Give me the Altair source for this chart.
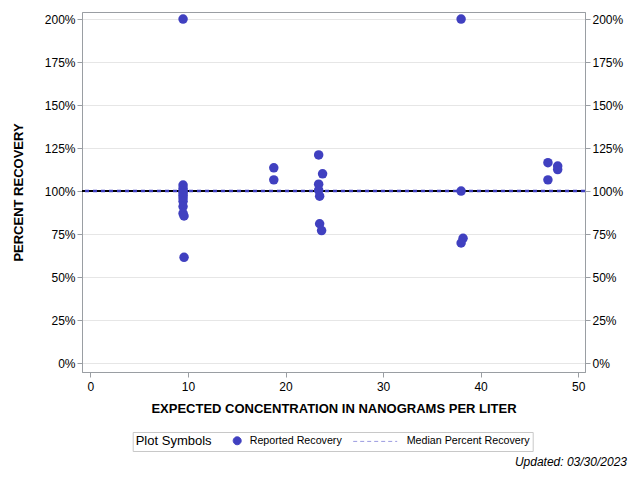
import altair as alt
import pandas as pd

conc = [9.5, 9.5, 9.5, 9.5, 9.5, 9.5, 9.5, 9.5, 9.5, 9.5, 9.6, 9.6,
        18.8, 18.8,
        23.4, 23.8, 23.4, 23.4, 23.5, 23.5, 23.7,
        38.0, 38.0, 38.2, 38.0,
        46.9, 47.9, 47.9, 46.9]
recovery = [200, 103.5, 101.5, 100, 99, 97.5, 96, 94, 91, 87, 85.5, 61.5,
            113.5, 106.5,
            121, 110, 104, 100.5, 97, 81, 77,
            200, 100, 72.5, 69.8,
            116.5, 114.5, 112.5, 106.5]
median_value = [100]
reference_value = [100]
y_ticks = [0, 25, 50, 75, 100, 125, 150, 175, 200]
x_ticks = [0, 10, 20, 30, 40, 50]
legend_labels = ["Reported Recovery", "Median Percent Recovery"]

pts = pd.DataFrame({"conc": conc, "rec": recovery})
med = pd.DataFrame({"rec": median_value})
ref = pd.DataFrame({"rec": reference_value})
# legend carrier rows: placed outside the domain and clipped away
leg = pd.DataFrame({"conc": [-100] * len(legend_labels), "rec": [-100] * len(legend_labels),
                    "series": legend_labels})

FONT = "Liberation Sans"
AXIS_COLOR = "#9a9ea3"
POINT_COLOR = "#4040c0"
LEG_LINE = "#9b9be0"

# symbol size 100 -> unit = 5px
CIRCLE_PATH = "M3.0,0A0.8,0.8,0,1,0,4.6,0A0.8,0.8,0,1,0,3.0,0Z"
LINE_PATH = "M-4.4,0L4.4,0"

xscale = alt.Scale(domain=[-0.86, 50.7], nice=False, zero=False)
yscale = alt.Scale(domain=[-5.2, 204.1], nice=False, zero=False)

x_enc = alt.X("conc:Q", scale=xscale,
              axis=alt.Axis(title="EXPECTED CONCENTRATION IN NANOGRAMS PER LITER",
                            values=x_ticks, grid=False, domainColor=AXIS_COLOR,
                            tickColor=AXIS_COLOR, labelFontSize=12, titleFontSize=13,
                            titleFontWeight="bold", labelColor="#000", titleColor="#000",
                            titlePadding=10, labelPadding=4))

left_axis = alt.Axis(title="PERCENT RECOVERY", values=y_ticks, labelExpr="datum.value + '%'",
                     grid=True, gridColor="#e6e6e6", domainColor=AXIS_COLOR,
                     tickColor=AXIS_COLOR, labelFontSize=12, titleFontSize=13,
                     titleFontWeight="bold", labelColor="#000", titleColor="#000",
                     titlePadding=19, orient="left")
right_axis = alt.Axis(title=None, values=y_ticks, labelExpr="datum.value + '%'",
                      grid=False, domainColor=AXIS_COLOR, tickColor=AXIS_COLOR,
                      labelFontSize=12, labelColor="#000", orient="right")

points = alt.Chart(pts).mark_point(filled=True, opacity=1, strokeWidth=0, size=90,
                                   color=POINT_COLOR).encode(
    x=x_enc,
    y=alt.Y("rec:Q", scale=yscale, axis=left_axis),
)

legend = alt.Legend(title="Plot Symbols", orient="none", legendX=50.7, legendY=420,
                    direction="horizontal", titleOrient="left", strokeColor="#c8c8c8",
                    padding=3, titleFontSize=13, titleFontWeight="normal",
                    titleColor="#000", labelFontSize=10.7, labelColor="#000",
                    symbolSize=100, symbolStrokeWidth=1, labelOffset=26,
                    columnPadding=8, titlePadding=1, labelLimit=220)

legend_layer = alt.Chart(leg).mark_point(filled=True, clip=True, opacity=1).encode(
    x=x_enc,
    y=alt.Y("rec:Q", scale=yscale, axis=None),
    color=alt.Color("series:N", scale=alt.Scale(domain=legend_labels,
                                                range=[POINT_COLOR, "transparent"]),
                    legend=legend),
    stroke=alt.Stroke("series:N", scale=alt.Scale(domain=legend_labels,
                                                  range=[POINT_COLOR, LEG_LINE]),
                      legend=legend),
    strokeDash=alt.StrokeDash("series:N", scale=alt.Scale(domain=legend_labels,
                                                          range=[[1, 0], [4, 3]]),
                              legend=legend),
    shape=alt.Shape("series:N", scale=alt.Scale(domain=legend_labels,
                                                range=[CIRCLE_PATH, LINE_PATH]),
                    legend=legend),
)

ref_rule = alt.Chart(ref).mark_rule(color="#000", strokeWidth=2).encode(
    y=alt.Y("rec:Q", scale=yscale, axis=None))
med_rule = alt.Chart(med).mark_rule(color=POINT_COLOR, strokeWidth=2.5, strokeDash=[4, 4]).encode(
    y=alt.Y("rec:Q", scale=yscale, axis=None))

right = alt.Chart(ref).mark_rule(opacity=0).encode(
    y=alt.Y("rec:Q", scale=yscale, axis=right_axis))

chart = alt.layer(ref_rule, med_rule, points, legend_layer, right).resolve_scale(
    y="independent"
).properties(
    width=503, height=360,
    title=alt.TitleParams("Updated: 03/30/2023", orient="bottom", anchor="end",
                          frame="group", fontSize=12, fontStyle="italic",
                          fontWeight="normal", font=FONT, color="#000", dx=42, offset=5),
    autosize=alt.AutoSizeParams(type="none"),
    padding={"left": 74, "top": 4, "right": 47, "bottom": 100},
).configure(font=FONT).configure_view(stroke=AXIS_COLOR, strokeWidth=1)

chart.save("out.html", embed_options={"renderer": "svg", "actions": False})
